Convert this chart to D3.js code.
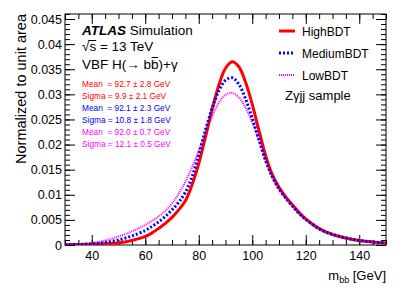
<!DOCTYPE html>
<html lang="en">
  <head>
    <meta charset="UTF-8" />
    <title>mbb in BDT categories</title>
    <script src="https://d3js.org/d3.v7.min.js"></script>
    <style>
      body { margin: 0; background: #fff; }
      text { font-family: "Liberation Sans", Arial, sans-serif; }
      .frame { fill: none; stroke: #000; stroke-width: 1px; }
      .axis path { display: none; }
      .axis line { stroke: #000; }
      .axis text { font-size: 12.5px; fill: #000; }
      .curve { fill: none; }
    </style>
  </head>
  <body>
    <svg width="407" height="292"></svg>

    <script>
      // m_bb points (GeV) the curves were read at
      var mbb = [30, 35, 40, 45, 50, 55,
                 60, 62.5, 65, 67.5, 70, 72.5, 75, 77.5, 80, 82.5, 85, 87.5, 90,
                 92.5, 95, 97.5, 100, 102.5, 105, 107.5, 110, 112.5, 115, 117.5, 120,
                 125, 130, 135, 140, 145, 150];

      var highBDT = [0.00005, 0.0001, 0.00015, 0.00025, 0.0004, 0.0009,
                     0.0017, 0.0024, 0.0033, 0.0043, 0.0055, 0.0070, 0.0088, 0.0120,
                     0.0162, 0.0215, 0.0270, 0.0318, 0.0352, 0.0365, 0.0355, 0.0324,
                     0.0280, 0.0228, 0.0178, 0.0140, 0.0115, 0.0096, 0.0080, 0.0065,
                     0.0052,
                     0.0033, 0.0021, 0.0014, 0.0009, 0.0006, 0.0004];
      var mediumBDT = [0.00005, 0.0001, 0.0002, 0.0005, 0.0010, 0.0018,
                       0.0029, 0.0037, 0.0046, 0.0057, 0.0070, 0.0085, 0.0105, 0.0136,
                       0.0180, 0.0229, 0.0272, 0.0307, 0.0328, 0.0333, 0.0320, 0.0291,
                       0.0252, 0.0210, 0.0168, 0.0136, 0.0112, 0.0094, 0.0078, 0.0063,
                       0.0051,
                       0.0032, 0.0021, 0.0014, 0.0009, 0.0006, 0.0004];
      var lowBDT = [0.0001, 0.0002, 0.0004, 0.0009, 0.0017, 0.0027,
                    0.0040, 0.0048, 0.0057, 0.0068, 0.0083, 0.0102, 0.0126, 0.0155,
                    0.0188, 0.0223, 0.0256, 0.0283, 0.0299, 0.0303, 0.0294, 0.0273,
                    0.0244, 0.0208, 0.0168, 0.0134, 0.0110, 0.0092, 0.0076, 0.0062,
                    0.0050,
                    0.0031, 0.0020, 0.0013, 0.0009, 0.0006, 0.0004];

      var seriesNames = ["HighBDT", "MediumBDT", "LowBDT"];
      var fitLines = [
        "Mean  = 92.7 \u00b1 2.8 GeV",
        "Sigma = 9.9 \u00b1 2.1 GeV",
        "Mean  = 92.1 \u00b1 2.3 GeV",
        "Sigma = 10.8 \u00b1 1.8 GeV",
        "Mean  = 92.0 \u00b1 0.7 GeV",
        "Sigma = 12.1 \u00b1 0.5 GeV"
      ];
      var xTicks = [40, 60, 80, 100, 120, 140];
      var yTicks = [0, 0.005, 0.01, 0.015, 0.02, 0.025, 0.03, 0.035, 0.04, 0.045];

      var svg = d3.select("svg"),
        padL = 65, padR = 386, padT = 14, padB = 245;

      var x = d3.scaleLinear().domain([30, 150]).range([padL, padR]);
      var y = d3.scaleLinear().domain([0, 0.046]).range([padB, padT]);

      var colors = { HighBDT: "#ff0000", MediumBDT: "#0000ff", LowBDT: "#ff00ff" };
      var strokes = {
        HighBDT: { w: 3, dash: null },
        MediumBDT: { w: 3, dash: "2,2" },
        LowBDT: { w: 2, dash: "1,1" }
      };

      svg.append("clipPath").attr("id", "clip")
        .append("rect").attr("x", padL).attr("y", padT)
        .attr("width", padR - padL).attr("height", padB - padT);

      // ticks on all four sides, pointing inward
      var xMinor = d3.range(30, 151, 5);
      var yMinor = d3.range(0, 0.0461, 0.001);

      function addAxis(axis, tx, ty, labels) {
        var g = svg.append("g").attr("class", "axis")
          .attr("transform", "translate(" + tx + "," + ty + ")").call(axis);
        if (!labels) g.selectAll("text").remove();
        return g;
      }

      addAxis(d3.axisBottom(x).tickValues(xMinor).tickSize(-5), 0, padB, false);
      addAxis(d3.axisBottom(x).tickValues(xTicks).tickSize(-10).tickPadding(6)
        .tickFormat(d3.format("d")), 0, padB, true);
      addAxis(d3.axisTop(x).tickValues(xMinor).tickSize(-5), 0, padT, false);
      addAxis(d3.axisTop(x).tickValues(xTicks).tickSize(-10), 0, padT, false);

      addAxis(d3.axisLeft(y).tickValues(yMinor).tickSize(-5), padL, 0, false);
      addAxis(d3.axisLeft(y).tickValues(yTicks).tickSize(-10).tickPadding(3)
        .tickFormat(d3.format("~g")), padL, 0, true);
      addAxis(d3.axisRight(y).tickValues(yMinor).tickSize(-5), padR, 0, false);
      addAxis(d3.axisRight(y).tickValues(yTicks).tickSize(-10), padR, 0, false);

      svg.append("rect").attr("class", "frame")
        .attr("x", padL).attr("y", padT)
        .attr("width", padR - padL).attr("height", padB - padT);

      // curves
      var line = d3.line()
        .x(function (d) { return x(d[0]); })
        .y(function (d) { return y(d[1]); })
        .curve(d3.curveCatmullRom);

      var values = { HighBDT: highBDT, MediumBDT: mediumBDT, LowBDT: lowBDT };
      ["LowBDT", "HighBDT", "MediumBDT"].forEach(function (name) {
        svg.append("path").attr("class", "curve")
          .attr("clip-path", "url(#clip)")
          .attr("d", line(d3.zip(mbb, values[name])))
          .attr("stroke", colors[name])
          .attr("stroke-width", strokes[name].w)
          .attr("stroke-dasharray", strokes[name].dash);
      });

      // axis titles
      svg.append("text")
        .attr("transform", "translate(26," + padT + ") rotate(-90)")
        .attr("text-anchor", "end")
        .style("font-size", "14.5px")
        .text("Normalized to unit area");

      var xt = svg.append("text")
        .attr("x", padR).attr("y", 280)
        .attr("text-anchor", "end")
        .style("font-size", "13px");
      xt.append("tspan").text("m");
      xt.append("tspan").attr("dy", 3).style("font-size", "9px").text("bb");
      xt.append("tspan").attr("dy", -3).text(" [GeV]");

      // labels top left
      var atl = svg.append("text").attr("x", 82).attr("y", 35).style("font-size", "13.5px");
      atl.append("tspan").style("font-weight", "bold").style("font-style", "italic").text("ATLAS");
      atl.append("tspan").text(" Simulation");

      var sq = svg.append("text").attr("x", 82).attr("y", 51).style("font-size", "13.5px")
        .text("\u221as = 13 TeV");
      var sqW = sq.node().getSubStringLength(0, 1);
      var sW = sq.node().getSubStringLength(1, 1);
      svg.append("line")
        .attr("x1", 82 + sqW - 1).attr("x2", 82 + sqW + sW)
        .attr("y1", 40.5).attr("y2", 40.5)
        .attr("stroke", "#000").attr("stroke-width", 1);

      var vbfText = "VBF H(\u2192 bb)+\u03b3";
      var vbf = svg.append("text").attr("x", 82).attr("y", 69).style("font-size", "13.5px")
        .text(vbfText);
      var bIdx = vbfText.indexOf("bb") + 1;
      var bx = 82 + vbf.node().getSubStringLength(0, bIdx);
      var bw = vbf.node().getSubStringLength(bIdx, 1);
      svg.append("line")
        .attr("x1", bx + 0.5).attr("x2", bx + bw - 0.5)
        .attr("y1", 57.5).attr("y2", 57.5)
        .attr("stroke", "#000").attr("stroke-width", 1);

      fitLines.forEach(function (t, i) {
        svg.append("text")
          .attr("x", 82).attr("y", 86.5 + i * 12)
          .attr("xml:space", "preserve")
          .style("white-space", "pre")
          .style("font-size", "8.3px")
          .attr("fill", colors[seriesNames[Math.floor(i / 2)]])
          .text(t);
      });

      // legend
      var legY = [31, 53, 75];
      seriesNames.forEach(function (name, i) {
        svg.append("line")
          .attr("x1", 279).attr("x2", 295)
          .attr("y1", legY[i]).attr("y2", legY[i])
          .attr("stroke", colors[name])
          .attr("stroke-width", strokes[name].w)
          .attr("stroke-dasharray", strokes[name].dash);
        svg.append("text")
          .attr("x", 302).attr("y", legY[i] + 4.5)
          .style("font-size", "12px")
          .text(name);
      });

      svg.append("text").attr("x", 285).attr("y", 100)
        .style("font-size", "13px")
        .text("Z\u03b3jj sample");
    </script>
  </body>
</html>
